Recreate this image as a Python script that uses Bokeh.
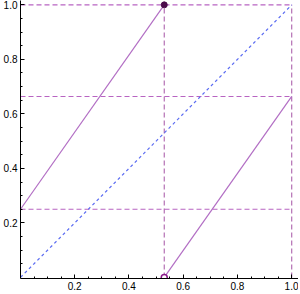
from bokeh.plotting import figure
from bokeh.models import Range1d, FixedTicker, CustomJSTickFormatter
from bokeh.embed import file_html
from bokeh.resources import INLINE

# data
seg1_x = [0.0, 0.53]
seg1_y = [0.25, 1.0]
seg2_x = [0.53, 1.0]
seg2_y = [0.0, 0.664]
diag_x = [0.0, 1.0]
diag_y = [0.0, 1.0]
hline_y = [0.25, 0.664, 1.0]
vline_x = [0.53, 1.0]
filled_pt = ([0.53], [1.0])
open_pt = ([0.53], [0.0])
major_ticks = [0.2, 0.4, 0.6, 0.8, 1.0]
minor_ticks = [i * 0.05 for i in range(1, 21)]

p = figure(width=298, height=292, output_backend="svg", toolbar_location=None,
           x_range=Range1d(0, 1.025), y_range=Range1d(-0.004, 1.016),
           min_border_left=18, min_border_right=0, min_border_top=0,
           min_border_bottom=14)
p.grid.visible = False
p.outline_line_color = None
p.background_fill_color = "white"

for y in hline_y:
    p.line([0, 1], [y, y], line_color="#b45cbf", line_width=1.1, line_dash="5 3", line_alpha=0.95)
for x in vline_x:
    p.line([x, x], [0, 1], line_color="#a85aa8", line_width=1.1, line_dash="5 3", line_alpha=0.95)
p.line(diag_x, diag_y, line_color="#5b6cf2", line_width=1.2, line_dash="3 3")
p.line(seg1_x, seg1_y, line_color="#b26ec4", line_width=1.2)
p.line(seg2_x, seg2_y, line_color="#b26ec4", line_width=1.2)
p.scatter(filled_pt[0], filled_pt[1], size=6, fill_color="#4b0a4b", line_color="#4b0a4b")
p.scatter(open_pt[0], open_pt[1], size=6, fill_color="white", line_color="#8b1a8b", line_width=1.5)

fmt = CustomJSTickFormatter(code="return tick.toFixed(1);")
for ax in (p.xaxis[0], p.yaxis[0]):
    ax.ticker = FixedTicker(ticks=major_ticks, minor_ticks=minor_ticks)
    ax.formatter = fmt
    ax.major_tick_in = 4
    ax.major_tick_out = 0
    ax.minor_tick_in = 2
    ax.minor_tick_out = 0
    ax.axis_line_color = "black"
    ax.major_tick_line_color = "black"
    ax.minor_tick_line_color = "black"
    ax.major_label_text_font = "Liberation Sans"
    ax.major_label_text_font_size = "10px"
    ax.major_label_text_color = "black"
    ax.major_label_standoff = 3

open("out.html", "w").write(file_html(p, INLINE))
